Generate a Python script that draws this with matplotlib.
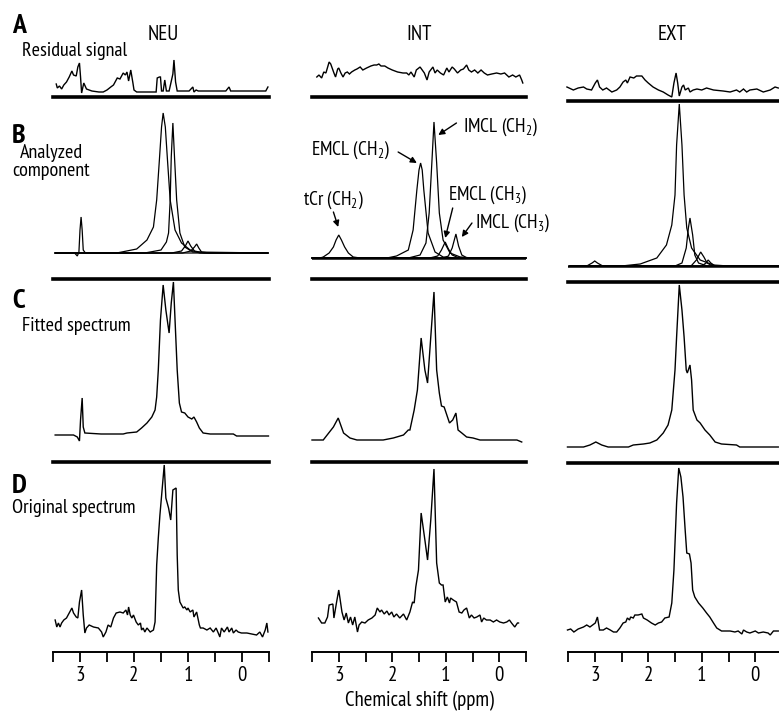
import matplotlib
matplotlib.use("Agg")
import matplotlib.pyplot as plt

plt.rcParams['font.family'] = ['PT Sans Narrow', 'DejaVu Sans']
plt.rcParams['mathtext.fontset'] = 'custom'
plt.rcParams['mathtext.rm'] = 'PT Sans Narrow'
plt.rcParams['mathtext.it'] = 'PT Sans Narrow'

W, H = 779, 713

groups = ['NEU', 'INT', 'EXT']
row_letters = ['A', 'B', 'C', 'D']
row_names = ['Residual signal', 'Analyzed\ncomponent', 'Fitted spectrum', 'Original spectrum']
tick_major = [3, 2, 1, 0]
tick_minor = [3.5, 2.5, 1.5, 0.5, -0.5]
xlabel = 'Chemical shift (ppm)'

# (ppm, intensity) pairs, arbitrary units

# A: residual signal
res_neu = [(3.44, 13), (3.42, 9), (3.38, 11), (3.34, 8), (3.30, 12), (3.25, 15), (3.20, 20), (3.15, 26),
           (3.12, 22), (3.07, 21), (3.04, 30), (3.01, 34), (2.99, 20), (2.97, 4), (2.93, 14), (2.88, 8),
           (2.78, 6), (2.65, 5), (2.57, 5), (2.50, 7), (2.43, 10), (2.38, 12), (2.31, 19), (2.26, 18),
           (2.20, 24), (2.16, 22), (2.13, 25), (2.10, 16), (2.06, 27), (2.02, 14), (2.0, 7), (1.95, 5),
           (1.59, 5), (1.57, 19), (1.53, 20), (1.51, 20), (1.49, 6), (1.46, 6), (1.43, 17), (1.40, 6),
           (1.35, 6), (1.28, 23), (1.26, 37), (1.23, 15), (1.20, 6), (1.10, 6), (0.98, 6), (0.91, 10),
           (0.89, 5), (0.85, 7), (0.81, 6), (0.75, 6), (0.30, 6), (0.24, 10), (0.21, 6), (-0.44, 6),
           (-0.48, 10)]
res_int = [(3.41, 20), (3.37, 22), (3.32, 19), (3.28, 25), (3.24, 24), (3.18, 35), (3.15, 33), (3.09, 24),
           (3.06, 20), (3.02, 28), (3.0, 29), (2.96, 24), (2.92, 20), (2.88, 24), (2.84, 25), (2.80, 23),
           (2.76, 25), (2.70, 27), (2.66, 28), (2.60, 30), (2.55, 27), (2.48, 29), (2.40, 31), (2.34, 32),
           (2.29, 32), (2.25, 33), (2.21, 31), (2.14, 31), (2.08, 29), (2.00, 27), (1.90, 25), (1.80, 24),
           (1.73, 24), (1.69, 22), (1.65, 25), (1.59, 20), (1.55, 27), (1.48, 30), (1.44, 27), (1.40, 24),
           (1.35, 17), (1.31, 25), (1.24, 30), (1.20, 24), (1.16, 27), (1.10, 24), (1.04, 22), (0.98, 29),
           (0.94, 25), (0.88, 30), (0.84, 28), (0.78, 24), (0.72, 27), (0.67, 28), (0.61, 32), (0.57, 27),
           (0.52, 25), (0.46, 27), (0.40, 24), (0.34, 27), (0.28, 24), (0.22, 22), (0.14, 23), (0.05, 24),
           (-0.03, 23), (-0.10, 24), (-0.18, 20), (-0.25, 22), (-0.31, 20), (-0.38, 22), (-0.42, 17),
           (-0.44, 14)]
res_ext = [(3.52, 14), (3.40, 11), (3.31, 13), (3.21, 14), (3.15, 12), (3.06, 11), (2.99, 18), (2.95, 21),
           (2.91, 14), (2.85, 11), (2.78, 13), (2.68, 9), (2.59, 11), (2.53, 14), (2.47, 19), (2.42, 21),
           (2.39, 18), (2.34, 24), (2.27, 23), (2.22, 25), (2.12, 25), (2.06, 21), (2.0, 18), (1.91, 14),
           (1.81, 11), (1.72, 9), (1.63, 6), (1.56, 4), (1.52, 18), (1.48, 28), (1.45, 18), (1.42, 5),
           (1.37, 14), (1.34, 16), (1.31, 11), (1.25, 13), (1.22, 9), (1.16, 11), (1.09, 12), (1.0, 11),
           (0.91, 13), (0.78, 11), (0.60, 10), (0.47, 9), (0.35, 11), (0.29, 9), (0.22, 12), (0.16, 9),
           (0.10, 11), (-0.03, 12), (-0.15, 9), (-0.28, 11), (-0.37, 14), (-0.43, 13)]

# B: analyzed components
comp_neu = {
    'EMCL_CH2': [(3.46, 17), (2.32, 17), (1.95, 21), (1.76, 30), (1.64, 43), (1.58, 70), (1.53, 110),
                 (1.49, 143), (1.46, 157), (1.42, 143), (1.38, 110), (1.33, 70), (1.24, 40), (1.12, 27),
                 (0.96, 20), (0.78, 17), (-0.48, 17)],
    'IMCL_CH2': [(3.46, 17), (1.8, 17), (1.5, 20), (1.40, 28), (1.36, 37), (1.33, 70), (1.31, 113),
                 (1.28, 147), (1.25, 113), (1.21, 70), (1.15, 37), (1.06, 23), (0.91, 18), (-0.48, 17)],
    'tCr': [(3.46, 17), (3.1, 17), (3.05, 14), (3.02, 18), (3.0, 40), (2.98, 53), (2.96, 40), (2.94, 20),
            (2.90, 17), (-0.48, 17)],
    'EMCL_CH3': [(3.46, 17), (1.3, 17), (1.12, 19), (1.05, 24), (1.00, 29), (0.95, 24), (0.88, 19),
                 (0.7, 17), (-0.48, 17)],
    'IMCL_CH3': [(3.46, 17), (1.1, 17), (0.95, 19), (0.88, 23), (0.84, 26), (0.80, 22), (0.75, 18),
                 (0.6, 17), (-0.48, 17)],
}
comp_int = {
    'tCr': [(3.5, 12), (3.35, 12), (3.29, 13), (3.18, 17), (3.10, 23), (3.05, 30), (3.0, 35), (2.95, 30),
            (2.89, 23), (2.82, 17), (2.73, 13), (2.6, 12), (-0.5, 12)],
    'EMCL_CH2': [(3.5, 12), (2.1, 12), (1.92, 14), (1.70, 20), (1.61, 40), (1.54, 80), (1.50, 100),
                 (1.47, 107), (1.44, 100), (1.41, 80), (1.33, 37), (1.20, 18), (1.05, 13), (0.8, 12),
                 (-0.5, 12)],
    'IMCL_CH2': [(3.5, 12), (1.7, 12), (1.48, 15), (1.37, 27), (1.31, 57), (1.26, 107), (1.22, 148),
                 (1.17, 107), (1.12, 57), (1.05, 30), (0.92, 17), (0.73, 13), (0.5, 12), (-0.5, 12)],
    'EMCL_CH3': [(3.5, 12), (1.3, 12), (1.15, 14), (1.08, 20), (1.01, 28), (0.95, 21), (0.88, 15),
                 (0.75, 12), (-0.5, 12)],
    'IMCL_CH3': [(3.5, 12), (1.05, 12), (0.95, 14), (0.88, 22), (0.81, 36), (0.76, 24), (0.70, 15),
                 (0.6, 12), (-0.5, 12)],
}
comp_ext = {
    'EMCL_CH2': [(3.46, 4), (2.5, 4), (2.15, 6), (1.84, 12), (1.66, 25), (1.56, 45), (1.50, 75), (1.47, 125),
                 (1.42, 166), (1.37, 125), (1.33, 75), (1.28, 42), (1.19, 22), (1.03, 10), (0.78, 5),
                 (0.5, 4), (-0.5, 4)],
    'IMCL_CH2': [(3.46, 4), (1.5, 4), (1.37, 7), (1.29, 22), (1.25, 42), (1.22, 52), (1.17, 35), (1.13, 15),
                 (1.06, 7), (0.9, 4), (-0.5, 4)],
    'EMCL_CH3': [(3.46, 4), (1.2, 4), (1.10, 10), (1.02, 18), (0.96, 13), (0.90, 7), (0.8, 4), (-0.5, 4)],
    'IMCL_CH3': [(3.46, 4), (1.0, 4), (0.92, 7), (0.88, 10), (0.83, 7), (0.75, 4), (-0.5, 4)],
    'tCr': [(3.46, 4), (3.15, 4), (3.05, 7), (3.0, 9), (2.95, 7), (2.85, 4), (-0.5, 4)],
}
comp_base = [17, 12, 4]

# C: fitted spectrum
fit_neu = [(3.46, 20), (3.12, 20), (3.05, 18), (3.01, 14), (2.99, 35), (2.96, 57), (2.94, 28), (2.91, 22),
           (2.61, 21), (2.20, 21), (2.13, 22), (1.95, 23), (1.86, 27), (1.76, 32), (1.67, 38), (1.61, 45),
           (1.58, 58), (1.55, 85), (1.51, 135), (1.46, 170), (1.41, 145), (1.35, 122), (1.31, 152),
           (1.27, 173), (1.24, 135), (1.20, 85), (1.16, 52), (1.12, 43), (1.06, 42), (1.0, 38), (0.93, 36),
           (0.89, 38), (0.84, 33), (0.79, 27), (0.72, 22), (0.59, 21), (0.16, 21), (0.10, 19), (-0.49, 19)]
fit_int = [(3.5, 15), (3.29, 15), (3.10, 28), (3.01, 37), (2.91, 22), (2.79, 17), (2.66, 15), (2.17, 15),
           (1.98, 17), (1.79, 20), (1.70, 25), (1.67, 25), (1.59, 45), (1.53, 65), (1.46, 117), (1.39, 85),
           (1.34, 72), (1.28, 118), (1.22, 163), (1.17, 85), (1.12, 62), (1.08, 49), (1.03, 48), (0.98, 40),
           (0.93, 32), (0.87, 35), (0.81, 42), (0.77, 25), (0.70, 22), (0.61, 18), (0.49, 17), (0.36, 15),
           (-0.33, 15), (-0.42, 13)]
fit_ext = [(3.51, 8), (3.21, 8), (3.09, 10), (2.98, 13), (2.87, 10), (2.75, 8), (2.37, 8), (2.28, 10),
           (2.09, 11), (1.97, 12), (1.84, 15), (1.72, 22), (1.63, 30), (1.56, 45), (1.50, 85), (1.47, 118),
           (1.42, 170), (1.37, 145), (1.33, 118), (1.29, 85), (1.27, 82), (1.22, 90), (1.19, 75), (1.16, 45),
           (1.09, 35), (1.03, 32), (0.94, 25), (0.85, 20), (0.75, 13), (0.63, 11), (0.35, 10), (0.29, 8),
           (-0.43, 8)]

# D: original spectrum
orig_neu = [(3.46, 32), (3.43, 25), (3.40, 29), (3.37, 25), (3.34, 29), (3.30, 32), (3.25, 34), (3.19, 40),
            (3.15, 44), (3.12, 39), (3.07, 35), (3.04, 34), (3.01, 50), (2.97, 62), (2.94, 37), (2.91, 19),
            (2.88, 24), (2.83, 27), (2.75, 25), (2.66, 24), (2.60, 20), (2.57, 15), (2.52, 20), (2.48, 27),
            (2.43, 25), (2.38, 34), (2.33, 39), (2.26, 40), (2.20, 39), (2.15, 42), (2.12, 37), (2.10, 45),
            (2.07, 37), (2.04, 34), (2.01, 37), (1.96, 30), (1.92, 27), (1.88, 29), (1.86, 22), (1.83, 24),
            (1.80, 20), (1.76, 24), (1.70, 20), (1.64, 22), (1.61, 30), (1.58, 87), (1.55, 114), (1.52, 137),
            (1.44, 187), (1.41, 154), (1.36, 144), (1.32, 132), (1.28, 162), (1.22, 164), (1.20, 97),
            (1.18, 62), (1.15, 50), (1.12, 47), (1.09, 44), (1.06, 45), (1.02, 42), (1.0, 44), (0.96, 40),
            (0.91, 42), (0.89, 35), (0.84, 40), (0.79, 27), (0.77, 24), (0.72, 24), (0.65, 22), (0.59, 24),
            (0.53, 20), (0.48, 24), (0.44, 19), (0.41, 15), (0.38, 24), (0.33, 20), (0.27, 25), (0.24, 20),
            (0.19, 24), (0.16, 19), (0.11, 22), (0.07, 20), (0.01, 19), (-0.09, 19), (-0.18, 18),
            (-0.27, 17), (-0.33, 20), (-0.38, 15), (-0.43, 22), (-0.46, 29), (-0.48, 20)]
orig_int = [(3.38, 34), (3.32, 29), (3.26, 29), (3.21, 35), (3.18, 47), (3.11, 48), (3.09, 34), (3.04, 50),
            (3.0, 62), (2.94, 40), (2.90, 32), (2.86, 39), (2.82, 29), (2.78, 35), (2.74, 27), (2.70, 35),
            (2.65, 20), (2.62, 27), (2.57, 30), (2.51, 29), (2.45, 32), (2.38, 34), (2.32, 37), (2.28, 44),
            (2.23, 40), (2.20, 42), (2.15, 38), (2.10, 41), (2.06, 37), (2.01, 40), (1.97, 35), (1.92, 38),
            (1.86, 34), (1.79, 38), (1.73, 32), (1.67, 40), (1.62, 50), (1.59, 49), (1.56, 65), (1.51, 82),
            (1.46, 139), (1.39, 112), (1.34, 92), (1.28, 132), (1.22, 183), (1.17, 89), (1.12, 69),
            (1.08, 67), (1.05, 67), (1.01, 50), (0.97, 55), (0.93, 49), (0.91, 54), (0.86, 52), (0.80, 50),
            (0.75, 40), (0.70, 39), (0.66, 42), (0.61, 44), (0.56, 34), (0.52, 37), (0.47, 34), (0.42, 35),
            (0.36, 37), (0.33, 30), (0.29, 34), (0.24, 32), (0.17, 32), (0.11, 30), (0.05, 32), (-0.01, 30),
            (-0.08, 29), (-0.14, 30), (-0.19, 32), (-0.23, 29), (-0.29, 25), (-0.34, 29), (-0.36, 29)]
orig_ext = [(3.51, 22), (3.45, 23), (3.39, 20), (3.31, 23), (3.21, 25), (3.15, 27), (3.09, 25), (3.04, 27),
            (2.99, 29), (2.95, 35), (2.91, 22), (2.84, 22), (2.78, 24), (2.71, 22), (2.65, 20), (2.59, 20),
            (2.53, 24), (2.47, 29), (2.42, 30), (2.39, 34), (2.35, 32), (2.33, 35), (2.28, 34), (2.25, 37),
            (2.19, 37), (2.12, 38), (2.09, 34), (2.02, 32), (1.94, 29), (1.87, 27), (1.81, 29), (1.75, 30),
            (1.69, 34), (1.61, 35), (1.56, 49), (1.52, 82), (1.47, 149), (1.43, 184), (1.39, 175),
            (1.35, 155), (1.31, 122), (1.28, 99), (1.23, 98), (1.20, 89), (1.17, 62), (1.13, 55), (1.06, 49),
            (0.98, 44), (0.91, 39), (0.85, 35), (0.78, 29), (0.72, 24), (0.63, 21), (0.47, 21), (0.38, 20),
            (0.32, 21), (0.25, 18), (0.22, 22), (0.16, 20), (0.10, 19), (0.00, 21), (-0.06, 19), (-0.15, 20),
            (-0.24, 19), (-0.28, 17), (-0.34, 21), (-0.43, 21)]

# peak labels in the INT analyzed-component panel: text, text pos, arrow tail, arrow tip
peak_labels = [
    ('tCr (CH$_2$)', (3.67, 65), (3.10, 58), (3.01, 43)),
    ('EMCL (CH$_2$)', (3.51, 115), (1.89, 118), (1.54, 107)),
    ('IMCL (CH$_2$)', (0.68, 138), (0.80, 147), (1.14, 135)),
    ('EMCL (CH$_3$)', (0.96, 70), (0.87, 62), (1.01, 32)),
    ('IMCL (CH$_3$)', (0.45, 42), (0.51, 47), (0.70, 33)),
]

fig = plt.figure(figsize=(W / 100, H / 100), dpi=100)

col_x = [(53, 269), (312, 526), (568, 782)]
rows_px = {
    'A': [(40, 97), (40, 97), (40, 101)],
    'B': [(100, 270), (100, 270), (100, 270)],
    'C': [(279, 455), (279, 455), (282, 455)],
    'D': [(462, 652), (462, 652), (463, 652)],
}


def add_ax(x0, x1, top, bot):
    ax = fig.add_axes([x0 / W, 1 - bot / H, (x1 - x0) / W, (bot - top) / H])
    ax.set_xlim(3.5, -0.5)
    ax.set_ylim(0, bot - top)
    for s in ax.spines.values():
        s.set_visible(False)
    ax.set_xticks([])
    ax.set_yticks([])
    ax.patch.set_alpha(0)
    return ax


def trace(ax, pts, lw=1.0):
    xs, ys = zip(*pts)
    ax.plot(xs, ys, color='black', lw=lw, clip_on=False, solid_joinstyle='miter')


residuals = [res_neu, res_int, res_ext]
components = [comp_neu, comp_int, comp_ext]
fits = [fit_neu, fit_int, fit_ext]
originals = [orig_neu, orig_int, orig_ext]

for i in range(3):
    x0, x1 = col_x[i]

    ax = add_ax(x0, x1, *rows_px['A'][i])
    trace(ax, residuals[i])
    ax.spines['bottom'].set_visible(True)
    ax.spines['bottom'].set_linewidth(2.6)

    ax = add_ax(x0, x1, *rows_px['B'][i])
    for name, pts in components[i].items():
        trace(ax, pts, lw=0.9)
    if i > 0:
        ax.axhline(comp_base[i], color='black', lw=1.8)
    if i == 1:
        for txt, tpos, tail, tip in peak_labels:
            ax.text(tpos[0], tpos[1], txt, fontsize=14, ha='left', va='baseline')
            ax.annotate('', xy=tip, xytext=tail,
                        arrowprops=dict(arrowstyle='-|>', lw=1.0, color='black',
                                        mutation_scale=9, shrinkA=0, shrinkB=0))

    ax = add_ax(x0, x1, *rows_px['C'][i])
    trace(ax, fits[i])
    ax.spines['top'].set_visible(True)
    ax.spines['top'].set_linewidth(2.6)

    ax = add_ax(x0, x1, *rows_px['D'][i])
    trace(ax, originals[i])
    ax.spines['top'].set_visible(True)
    ax.spines['top'].set_linewidth(2.6)
    ax.spines['bottom'].set_visible(True)
    ax.spines['bottom'].set_linewidth(1.4)
    ax.set_xticks(tick_major)
    ax.set_xticklabels([str(t) for t in tick_major])
    ax.set_xticks(tick_minor, minor=True)
    ax.tick_params(axis='x', which='both', direction='out', length=7, width=1.3,
                   labelsize=15, pad=3)

# column titles
for name, cx in zip(groups, [163, 419, 672]):
    fig.text(cx / W, 1 - 40 / H, name, fontsize=15, ha='center', va='baseline')

# row letters and names
letter_base = [33, 143, 308, 493]
for letter, yb in zip(row_letters, letter_base):
    fig.text(12 / W, 1 - yb / H, letter, fontsize=20, fontweight='bold', ha='left', va='baseline')

fig.text(22 / W, 1 - 56 / H, row_names[0], fontsize=14.5, ha='left', va='baseline')
fig.text(20 / W, 1 - 158 / H, row_names[1].split('\n')[0], fontsize=14.5, ha='left', va='baseline')
fig.text(12 / W, 1 - 176 / H, row_names[1].split('\n')[1], fontsize=14.5, ha='left', va='baseline')
fig.text(22 / W, 1 - 331 / H, row_names[2], fontsize=14.5, ha='left', va='baseline')
fig.text(12 / W, 1 - 513 / H, row_names[3], fontsize=14.5, ha='left', va='baseline')

fig.text(419 / W, 1 - 706 / H, xlabel, fontsize=15, ha='center', va='baseline')

fig.savefig('out.png', dpi=100)
